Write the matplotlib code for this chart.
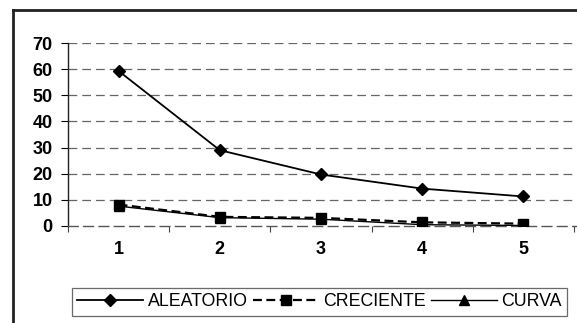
import matplotlib
matplotlib.use("Agg")
import matplotlib.pyplot as plt
from matplotlib.lines import Line2D

categories = [1, 2, 3, 4, 5]
aleatorio = [59.3, 29.0, 19.7, 14.3, 11.3]
creciente = [8.2, 3.5, 3.1, 1.4, 0.9]
curva = [7.6, 3.2, 2.6, 0.5, 0.2]
y_ticks = [0, 10, 20, 30, 40, 50, 60, 70]

plt.rcParams['font.family'] = ['Liberation Sans', 'DejaVu Sans']

W, H = 577, 323
fig = plt.figure(figsize=(W / 100, H / 100), dpi=100)
ax = fig.add_axes([68 / W, 1 - 226 / H, (576 - 68) / W, (226 - 43) / H])

# outer chart frame (only the left and top edges fall inside the image)
fig.add_artist(Line2D([13 / W, 13 / W], [0, 1 - 10 / H], transform=fig.transFigure,
                      color='#222222', lw=2.0))
fig.add_artist(Line2D([13 / W, 1], [1 - 10 / H, 1 - 10 / H], transform=fig.transFigure,
                      color='#222222', lw=2.0))

x = list(range(len(categories)))
ax.plot(x, aleatorio, color='black', lw=1.3, marker='D', ms=6.5, label='ALEATORIO', zorder=5)
ax.plot(x, creciente, color='black', lw=1.6, ls=(0, (4, 2)), marker='s', ms=7, label='CRECIENTE', zorder=4)
ax.plot(x, curva, color='black', lw=1.0, marker='^', ms=6.5, label='CURVA', zorder=3)

ax.set_xlim(-0.5, len(categories) - 0.5 + 0.02)
ax.set_ylim(0, 70)
ax.set_yticks(y_ticks)
ax.set_yticklabels([str(v) for v in y_ticks], fontsize=13, fontweight='bold')

# category axis: boundary ticks, labels centred on categories
ax.set_xticks([i - 0.5 for i in range(len(categories) + 1)])
ax.set_xticklabels([])
ax.set_xticks(x, minor=True)
ax.set_xticklabels([str(c) for c in categories], minor=True, fontsize=13, fontweight='bold')
ax.tick_params(axis='x', which='minor', length=0, pad=11)
ax.tick_params(axis='x', which='major', length=4, width=0.8, color='#444444', direction='out')
ax.tick_params(axis='y', length=5, width=0.8, pad=6, direction='out')

for v in y_ticks[1:]:
    ax.axhline(v, color='#666666', lw=0.9, ls=(0, (7, 4)), zorder=1)

for s in ['top', 'right']:
    ax.spines[s].set_visible(False)
ax.spines['left'].set_color('#222222')
ax.spines['left'].set_linewidth(1.0)
ax.spines['bottom'].set_color('#555555')
ax.spines['bottom'].set_linewidth(1.0)
ax.spines['bottom'].set_linestyle((0, (7, 4)))

leg = fig.legend(loc='upper left', bbox_to_anchor=(72 / W, 1 - 288 / H), ncol=3,
                 frameon=True, fancybox=False, edgecolor='#444444',
                 prop={'family': 'Liberation Sans', 'size': 12.8},
                 handlelength=3.7, handletextpad=0.25, columnspacing=0.3,
                 borderpad=0.3, borderaxespad=0)
leg.get_frame().set_linewidth(0.9)

fig.savefig('out.png', dpi=100)
